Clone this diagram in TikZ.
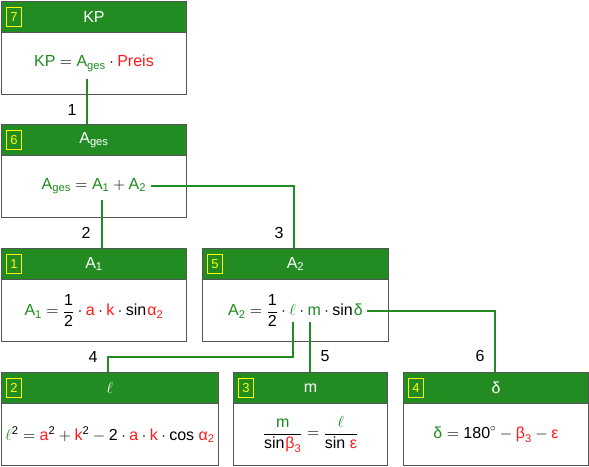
\RequirePackage{fix-cm}
\documentclass[tikz,border=0pt]{standalone}
\usepackage{amsmath}
\usepackage{fontspec}
\setmainfont{Liberation Sans}
\usetikzlibrary{positioning}
\definecolor{fg}{HTML}{228B22}
\definecolor{eqg}{HTML}{1E8C1E}
\definecolor{eqr}{HTML}{FF1A1A}
\definecolor{bord}{HTML}{555555}
\definecolor{numy}{HTML}{FFFF00}
\newcommand{\Gc}[1]{\textcolor{eqg}{#1}}
\newcommand{\Rc}[1]{\textcolor{eqr}{#1}}
\newcommand{\tx}[1]{\text{#1}}
\tikzset{
 hdr/.style={draw=bord, line width=0.9pt, fill=fg, text=white, anchor=north west, minimum height=31pt, inner sep=0pt, font=\fontsize{16}{19}\selectfont},
 bodybox/.style={draw=bord, line width=0.9pt, fill=white, anchor=north west, minimum height=62pt, inner sep=0pt, font=\fontsize{16}{19}\selectfont},
 numbox/.style={draw=numy, line width=0.8pt, text=numy, minimum width=15pt, minimum height=19pt, inner sep=0pt, anchor=west, font=\fontsize{13}{15}\selectfont},
 link/.style={draw=fg, line width=1.8pt},
 lbl/.style={font=\fontsize{16}{19}\selectfont, text=black, inner sep=0pt},
}
\begin{document}
\begin{tikzpicture}[x=1pt,y=-1pt]
\useasboundingbox (0,0) rectangle (589,466);
% Box 7
\node[hdr, minimum width=185pt] (h7) at (1,1) {KP};
\node[bodybox, minimum width=185pt] (b7) at (1,32) {$\Gc{\tx{KP}} = \Gc{\tx{A}_{\tx{ges}}}\cdot\Rc{\tx{Preis}}$};
\node[numbox] (n7) at ([xshift=5pt]h7.west) {7};
% Box 6
\node[hdr, minimum width=185pt] (h6) at (1,124) {$\tx{A}_{\tx{ges}}$};
\node[bodybox, minimum width=185pt] (b6) at (1,155) {$\Gc{\tx{A}_{\tx{ges}}} = \Gc{\tx{A}_{\tx{1}}} + \Gc{\tx{A}_{\tx{2}}}$};
\node[numbox] (n6) at ([xshift=5pt]h6.west) {6};
% Box 1
\node[hdr, minimum width=185pt] (h1) at (1,248) {$\tx{A}_{\tx{1}}$};
\node[bodybox, minimum width=185pt] (b1) at (1,279) {$\displaystyle\Gc{\tx{A}_{\tx{1}}} = \frac{\tx{1}}{\tx{2}}\cdot\Rc{\tx{a}}\cdot\Rc{\tx{k}}\cdot\tx{sin\kern1pt}\Rc{\tx{α}_{\tx{2}}}$};
\node[numbox] (n1) at ([xshift=5pt]h1.west) {1};
% Box 5
\node[hdr, minimum width=186pt] (h5) at (202,248) {$\tx{A}_{\tx{2}}$};
\node[bodybox, minimum width=186pt] (b5) at (202,279) {$\displaystyle\Gc{\tx{A}_{\tx{2}}} = \frac{\tx{1}}{\tx{2}}\cdot\Gc{\ell}\cdot\Gc{\tx{m}}\cdot\tx{sin\kern1pt}\Gc{\tx{δ}}$};
\node[numbox] (n5) at ([xshift=5pt]h5.west) {5};
% Box 2
\node[hdr, minimum width=217pt] (h2) at (1,372) {$\ell$};
\node[bodybox, minimum width=217pt] (b2) at (1,403) {$\Gc{\ell}^{\tx{2}} = \Rc{\tx{a}}^{\tx{2}} + \Rc{\tx{k}}^{\tx{2}} - \tx{2}\cdot\Rc{\tx{a}}\cdot\Rc{\tx{k}}\cdot\tx{cos}\;\Rc{\tx{α}_{\tx{2}}}$};
\node[numbox] (n2) at ([xshift=5pt]h2.west) {2};
% Box 3
\node[hdr, minimum width=154pt] (h3) at (233,372) {m};
\node[bodybox, minimum width=154pt] (b3) at (233,403) {$\displaystyle\frac{\Gc{\tx{m}}}{\tx{sin\kern1pt}\Rc{\tx{β}_{\tx{3}}}} = \frac{\Gc{\ell}}{\tx{sin}\;\Rc{\tx{ε}}}$};
\node[numbox] (n3) at ([xshift=5pt]h3.west) {3};
% Box 4
\node[hdr, minimum width=185pt] (h4) at (403,372) {δ};
\node[bodybox, minimum width=185pt] (b4) at (403,403) {$\Gc{\tx{δ}} = \tx{180}^{\circ} - \Rc{\tx{β}_{\tx{3}}} - \Rc{\tx{ε}}$};
\node[numbox] (n4) at ([xshift=5pt]h4.west) {4};
% connectors
\coordinate (c1) at (87,79);
\draw[link] (c1) -- (c1 |- h6.north);
\node[lbl] (l1) at (72,110) {1};
\coordinate (c2) at (102,200);
\draw[link] (c2) -- (c2 |- h1.north);
\node[lbl] (l2) at (86,233) {2};
\coordinate (c3) at (151,186);
\coordinate (c3b) at (294,186);
\draw[link] (c3) -- (c3b) -- (c3b |- h5.north);
\node[lbl] (l3) at (279,233) {3};
\coordinate (c4) at (293,322);
\coordinate (c4b) at (293,357);
\coordinate (c4c) at (108,357);
\draw[link] (c4) -- (c4b) -- (c4c) -- (c4c |- h2.north);
\node[lbl] (l4) at (93,357) {4};
\coordinate (c5) at (310,322);
\draw[link] (c5) -- (c5 |- h3.north);
\node[lbl] (l5) at (325,356) {5};
\coordinate (c6) at (367,311);
\coordinate (c6b) at (495,311);
\draw[link] (c6) -- (c6b) -- (c6b |- h4.north);
\node[lbl] (l6) at (480,356) {6};
\end{tikzpicture}
\end{document}
